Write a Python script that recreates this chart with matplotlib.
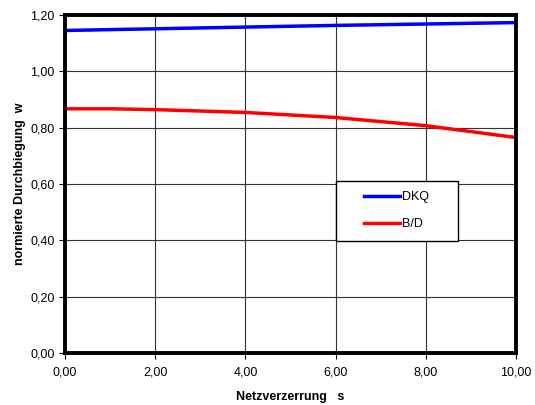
import matplotlib
matplotlib.use("Agg")
import matplotlib.pyplot as plt
from matplotlib.ticker import FuncFormatter
from matplotlib.patches import Rectangle

plt.rcParams['font.family'] = ['Liberation Sans', 'DejaVu Sans']

s = [0, 1, 2, 4, 6, 8, 10]
dkq = [1.145, 1.148, 1.151, 1.157, 1.163, 1.168, 1.173]
bd = [0.867, 0.867, 0.864, 0.854, 0.836, 0.807, 0.765]
xticks = [0, 2, 4, 6, 8, 10]
yticks = [0, 0.2, 0.4, 0.6, 0.8, 1.0, 1.2]

fig = plt.figure(figsize=(5.35, 4.05), dpi=100)
ax = fig.add_axes([0.1215, 0.1284, 0.843, 0.8346])
ax.plot(s, dkq, color='#0000ff', lw=2.5, label='DKQ')
ax.plot(s, bd, color='#ff0000', lw=2.5, label='B/D')
ax.set_xlim(0, 10)
ax.set_ylim(0, 1.2)
ax.set_xticks(xticks)
ax.set_yticks(yticks)
fmt = FuncFormatter(lambda v, p: f"{v:.2f}".replace('.', ','))
ax.xaxis.set_major_formatter(fmt)
ax.yaxis.set_major_formatter(fmt)
ax.grid(True, color='#333333', lw=0.8)
ax.set_axisbelow(True)
for sp in ax.spines.values():
    sp.set_linewidth(2.8)
    sp.set_color('black')
ax.tick_params(labelsize=9, length=4, width=0.8, direction='out')
ax.tick_params(axis='x', pad=6)
ax.set_xlabel('Netzverzerrung   s', fontsize=9, fontweight='bold', labelpad=9)
ax.set_ylabel('normierte Durchbiegung  w', fontsize=9, fontweight='bold', labelpad=3)

# legend frame
ax.add_patch(Rectangle((0.601, 0.331), 0.270, 0.178, transform=ax.transAxes,
                       facecolor='white', edgecolor='black', lw=1.0, zorder=4))
leg = ax.legend(loc='upper left', bbox_to_anchor=(0.663, 0.478), fontsize=9,
                frameon=False, handlelength=2.9, borderpad=0, labelspacing=1.2,
                handletextpad=0.15, borderaxespad=0)
leg.set_zorder(5)
fig.savefig('out.png', dpi=100)
